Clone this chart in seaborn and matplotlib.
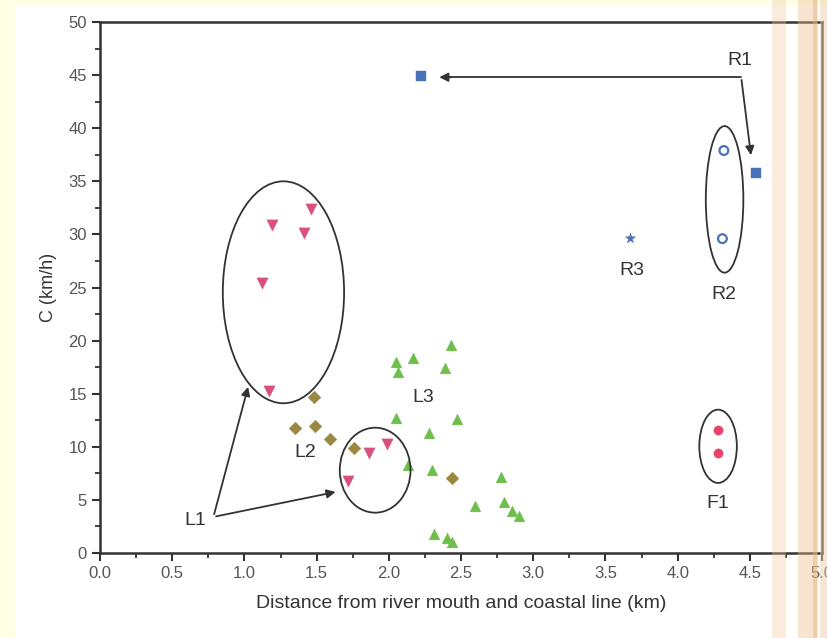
import numpy as np
import pandas as pd
import matplotlib
matplotlib.use("Agg")
import matplotlib.pyplot as plt
from matplotlib.patches import Ellipse, Rectangle
import seaborn as sns

# ── Data ──────────────────────────────────────────────────────────────────────
l1_x = [1.19, 1.46, 1.41, 1.12, 1.17, 1.72, 1.86, 1.99]
l1_y = [30.9, 32.4, 30.1, 25.4, 15.3, 6.8, 9.4, 10.3]

l2_x = [1.48, 1.35, 1.49, 1.59, 1.76, 2.44]
l2_y = [14.7, 11.8, 12.0, 10.7, 9.9, 7.1]

l3_x = [2.43, 2.17, 2.05, 2.06, 2.39, 2.05, 2.47, 2.28, 2.13, 2.30,
        2.78, 2.60, 2.80, 2.85, 2.90, 2.31, 2.40, 2.44]
l3_y = [19.6, 18.4, 18.0, 17.0, 17.4, 12.7, 12.6, 11.3, 8.3, 7.8,
        7.2, 4.4, 4.8, 4.0, 3.5, 1.8, 1.4, 1.0]

r1_x = [2.22, 4.54]
r1_y = [44.9, 35.8]

r2_x = [4.32, 4.31]
r2_y = [37.9, 29.6]

r3_x = [3.67]
r3_y = [29.7]

f1_x = [4.28, 4.28]
f1_y = [11.6, 9.4]

xticks = [0.0, 0.5, 1.0, 1.5, 2.0, 2.5, 3.0, 3.5, 4.0, 4.5, 5.0]
yticks = [0, 5, 10, 15, 20, 25, 30, 35, 40, 45, 50]

sns.set_style("white")
plt.rcParams["font.family"] = ["Liberation Sans", "DejaVu Sans"]

fig = plt.figure(figsize=(8.27, 6.38), dpi=100, facecolor="white")
ax = fig.add_axes([0.121, 0.1332, 0.873, 0.8323])
ax.set_facecolor("white")

# cream page margins and faint orange page-edge strips
fig.patches.append(Rectangle((0, 0), 15 / 827, 1, transform=fig.transFigure,
                             facecolor="#FFFFE6", edgecolor="none", zorder=0))
fig.patches.append(Rectangle((0, 1 - 5 / 638), 1, 5 / 638, transform=fig.transFigure,
                             facecolor="#FFFFE6", edgecolor="none", zorder=0))
for x0, w, c, a in [(772, 14, "#F2C79A", 0.35), (798, 20, "#EFC08E", 0.4),
                    (813, 4, "#E6B07A", 0.45), (820, 7, "#F0CFA8", 0.5)]:
    fig.patches.append(Rectangle((x0 / 827, 0), w / 827, 1, transform=fig.transFigure,
                                 facecolor=c, edgecolor="none", alpha=a, zorder=5))

groups = [
    (l1_x, l1_y, "v", "#D8507F", "#D8507F", 65),
    (l2_x, l2_y, "D", "#9A8840", "#9A8840", 42),
    (l3_x, l3_y, "^", "#6DBE4B", "#6DBE4B", 60),
    (r1_x, r1_y, "s", "#4A72B8", "#4A72B8", 42),
    (r2_x, r2_y, "o", "none", "#4A72B8", 40),
    (r3_x, r3_y, "*", "#4A72B8", "#4A72B8", 60),
    (f1_x, f1_y, "o", "#E8446B", "#E8446B", 45),
]
for gx, gy, mk, fc, ec, s in groups:
    df = pd.DataFrame({"x": gx, "y": gy})
    sns.scatterplot(data=df, x="x", y="y", ax=ax, marker=mk, s=s,
                    facecolor=fc, edgecolor=ec, linewidth=1.6 if fc == "none" else 0.3,
                    zorder=3)

# grouping ellipses
for cx, cy, w, h in [(1.27, 24.55, 0.84, 20.9), (1.905, 7.8, 0.49, 8.0),
                     (4.325, 33.3, 0.26, 13.8), (4.28, 10.05, 0.26, 6.9)]:
    ax.add_patch(Ellipse((cx, cy), w, h, facecolor="none", edgecolor="#333333",
                         linewidth=1.3, zorder=4))

# labels
lab_kw = dict(fontsize=14, color="#333333", ha="center", va="center", zorder=6)
ax.text(4.43, 46.4, "R1", **lab_kw)
ax.text(3.68, 26.6, "R3", **lab_kw)
ax.text(4.32, 24.3, "R2", **lab_kw)
ax.text(4.28, 4.7, "F1", **lab_kw)
ax.text(2.24, 14.6, "L3", **lab_kw)
ax.text(1.42, 9.5, "L2", **lab_kw)
ax.text(0.66, 3.1, "L1", **lab_kw)

arrow = dict(arrowstyle="-|>", color="#333333", lw=1.3, mutation_scale=13)
ax.plot([4.44, 2.40], [44.8, 44.8], color="#333333", lw=1.3, zorder=5)
ax.annotate("", xy=(2.33, 44.8), xytext=(2.45, 44.8), arrowprops=arrow)
ax.annotate("", xy=(4.51, 37.2), xytext=(4.44, 44.8), arrowprops=arrow)
ax.annotate("", xy=(1.03, 15.9), xytext=(0.785, 3.4), arrowprops=arrow)
ax.annotate("", xy=(1.65, 5.8), xytext=(0.785, 3.4), arrowprops=arrow)

ax.set_xlim(0, 5.0)
ax.set_ylim(0, 50)
ax.set_xticks(xticks)
ax.set_yticks(yticks)
ax.set_xticklabels([f"{t:.1f}" for t in xticks])
ax.set_yticklabels([str(t) for t in yticks])
ax.set_xticks(np.arange(0.25, 5.0, 0.5), minor=True)
ax.set_yticks(np.arange(2.5, 50, 5), minor=True)
ax.tick_params(axis="both", which="major", direction="out", length=6, width=1.5,
               color="#333333", labelsize=12, labelcolor="#555555",
               bottom=True, left=True, top=False, right=False)
ax.tick_params(axis="both", which="minor", direction="out", length=3.5, width=1.3,
               color="#333333", bottom=True, left=True)
for sp in ax.spines.values():
    sp.set_visible(True)
    sp.set_color("#333333")
    sp.set_linewidth(1.8)

ax.set_xlabel("Distance from river mouth and coastal line (km)", fontsize=14,
              color="#333333", labelpad=10)
ax.set_ylabel("C (km/h)", fontsize=13, color="#333333", labelpad=8)

fig.savefig("out.png", dpi=100, facecolor=fig.get_facecolor())
